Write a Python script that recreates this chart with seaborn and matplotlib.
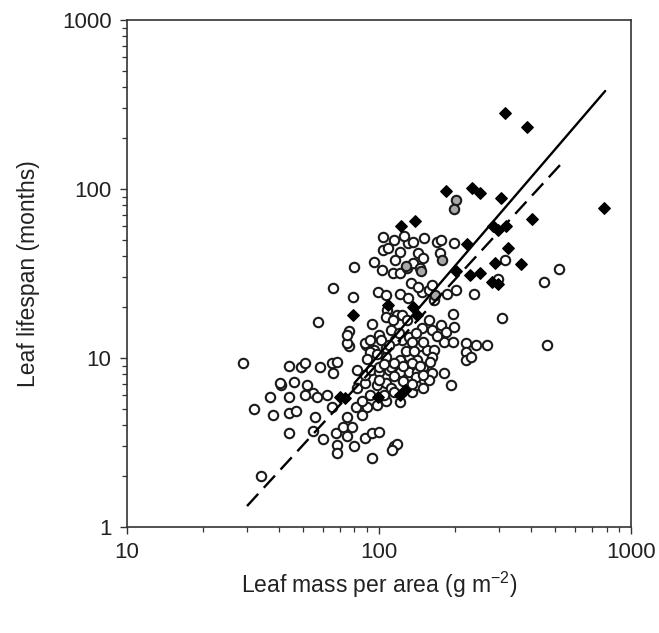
import numpy as np
import pandas as pd
import seaborn as sns
from matplotlib import pyplot as plt
from matplotlib.ticker import FixedLocator, LogLocator, NullFormatter

# open circles (most species)
open_lma = [29, 44, 41, 37, 44, 32, 38, 44, 44, 34, 49, 51, 58.6, 65, 68.5, 65.5, 40.6, 46, 52, 55,
            51, 57, 62.5, 65, 56, 55, 60, 67.5, 72, 75, 81.5, 89.5, 98, 107, 121, 85.5, 92, 78, 68, 68.5,
            80, 75, 88, 86, 94, 100, 115, 118, 94, 135, 141, 82, 98, 88, 107, 112, 82, 88, 93, 100,
            110, 121, 132, 142, 162, 181, 193, 100, 107, 121, 132, 142, 112, 115, 141, 150, 158, 100, 57.5, 76,
            76, 94, 89, 100, 112, 118, 108, 123, 132, 145, 155, 166, 197, 177, 185, 199, 307, 222, 242, 269,
            222, 222, 233, 107, 114, 124, 129, 148, 158, 163, 181, 197, 75, 88, 92, 96, 102, 107, 116, 135,
            163, 104, 109, 121, 130, 136, 151, 170, 177, 199, 143, 150, 175, 96, 103, 114, 121, 129, 136, 145,
            80, 65.5, 79, 99, 107, 121, 130, 148, 158, 166, 187, 203, 126, 116, 134, 143, 163, 238, 104, 115,
            317, 520, 450, 465, 150, 113, 47, 75, 92, 298,
            105, 115, 125, 135, 145, 128, 138, 150, 120, 140, 110, 98, 90, 125, 135, 150, 115, 105, 160, 170]
open_ls = [9.3, 9.0, 6.9, 5.9, 5.9, 5.0, 4.6, 4.7, 3.6, 2.0, 8.8, 9.4, 8.8, 9.3, 9.5, 8.2, 7.1, 7.2, 6.9, 6.2,
           6.0, 5.85, 6.0, 5.1, 4.45, 3.7, 3.3, 3.6, 3.9, 4.5, 5.1, 5.1, 5.3, 5.6, 5.5, 5.6, 6.0, 3.9, 3.05, 2.75,
           3.0, 3.45, 3.35, 4.6, 3.6, 3.65, 3.0, 3.1, 2.55, 6.3, 6.9, 6.6, 6.9, 7.1, 7.1, 6.6, 8.5, 7.9, 8.5, 8.3,
           8.5, 8.3, 8.3, 8.3, 8.2, 8.2, 6.9, 8.8, 10.1, 9.7, 10.1, 9.7, 8.9, 7.8, 7.7, 8.9, 7.4, 7.4, 16.3, 14.4,
           11.7, 15.8, 11.9, 13.7, 14.6, 17.9, 19.2, 12.8, 13.3, 11.7, 11.1, 11.1, 18.3, 15.6, 14.2, 15.2, 17.2, 12.2, 11.9, 11.9,
           10.8, 9.7, 10.1, 17.5, 16.7, 17.9, 16.7, 15.0, 16.7, 14.6, 12.4, 12.4, 12.2, 12.2, 12.8, 11.1, 12.8, 11.5, 12.8, 12.4,
           10.1, 43.5, 44.5, 42.5, 48, 48.5, 51.5, 48.5, 50, 48, 42, 39, 42, 37, 33, 32, 32, 34, 36.5, 34,
           34.5, 26, 23, 24.5, 23.5, 24, 22.5, 24.5, 25.2, 22, 24, 25.2, 53, 38, 27.7, 26.3, 27, 24, 52, 50,
           38, 33.5, 28, 12, 7.9, 2.85, 4.85, 13.7, 10.9, 29.5,
           9.2, 9.3, 9.0, 9.4, 9.0, 11, 11, 12.5, 14, 14, 12, 10.5, 9.8, 7.3, 7.0, 6.6, 6.3, 6.0, 9.5, 13.5]

# grey filled circles
grey_lma = [203, 199, 128, 147, 178, 167]
grey_ls = [86, 76, 35, 32.7, 38, 23.6]

# black filled diamonds
black_lma = [317, 388, 185, 234, 252, 306, 783, 139, 122, 284, 297, 320, 406, 224, 326, 289,
             367, 203, 230, 252, 282, 297, 109, 79, 136, 142, 70, 73.5, 99, 121.5, 127]
black_ls = [282, 233, 97, 101, 95, 88, 77, 65, 60, 60, 57, 60, 66, 47, 45, 36.5,
            36, 32.7, 31, 31.8, 28.2, 27.4, 20.6, 18, 20, 18, 5.9, 5.8, 5.9, 6.0, 6.5]

# fitted lines (end points)
solid_lma = [80, 790]
solid_ls = [7.1, 380]
dashed_lma = [30, 524]
dashed_ls = [1.33, 139]

sns.set_style("white")
plt.rcParams['font.family'] = ['Liberation Sans', 'DejaVu Sans']
plt.rcParams['mathtext.default'] = 'regular'

fig = plt.figure(figsize=(6.59, 6.33), dpi=100)
ax = fig.add_axes([0.1923, 0.1675, 0.7652, 0.8009])

df_open = pd.DataFrame({"lma": open_lma, "ls": open_ls})
df_grey = pd.DataFrame({"lma": grey_lma, "ls": grey_ls})
df_black = pd.DataFrame({"lma": black_lma, "ls": black_ls})

sns.scatterplot(data=df_open, x="lma", y="ls", ax=ax, marker="o", s=46,
                facecolor="white", edgecolor="#1a1a1a", linewidth=1.5, zorder=3)
sns.scatterplot(data=df_grey, x="lma", y="ls", ax=ax, marker="o", s=46,
                facecolor="#a8a8a8", edgecolor="#1a1a1a", linewidth=1.5, zorder=4)
sns.scatterplot(data=df_black, x="lma", y="ls", ax=ax, marker="D", s=34,
                color="black", edgecolor="black", linewidth=1.0, zorder=5)

sns.lineplot(x=solid_lma, y=solid_ls, ax=ax, color="black", linewidth=1.7, zorder=6)
sns.lineplot(x=dashed_lma, y=dashed_ls, ax=ax, color="black", linewidth=1.7,
             dashes=False, zorder=6).lines[-1].set_dashes((7, 3.5))

ax.set_xscale("log")
ax.set_yscale("log")
ax.set_xlim(10, 1000)
ax.set_ylim(1, 1000)

ax.xaxis.set_major_locator(FixedLocator([10, 100, 1000]))
ax.yaxis.set_major_locator(FixedLocator([1, 10, 100, 1000]))
ax.set_xticklabels(["10", "100", "1000"])
ax.set_yticklabels(["1", "10", "100", "1000"])
for a in (ax.xaxis, ax.yaxis):
    a.set_minor_locator(LogLocator(base=10, subs=np.arange(2, 10)))
    a.set_minor_formatter(NullFormatter())

ax.tick_params(which="major", direction="out", length=5, width=1.0, color="#333333",
               labelsize=16, pad=6, colors="#333333", labelcolor="#222222")
ax.tick_params(which="minor", direction="out", length=3.5, width=0.9, color="#333333")
ax.tick_params(top=False, right=False, bottom=True, left=True, which="both")

for sp in ax.spines.values():
    sp.set_color("#333333")
    sp.set_linewidth(1.2)

ax.set_xlabel(r"Leaf mass per area (g m$^{-2}$)", fontsize=16.5, labelpad=5, color="#222222")
ax.set_ylabel("Leaf lifespan (months)", fontsize=16.5, labelpad=16, color="#222222")

fig.savefig("out.png", dpi=100)
